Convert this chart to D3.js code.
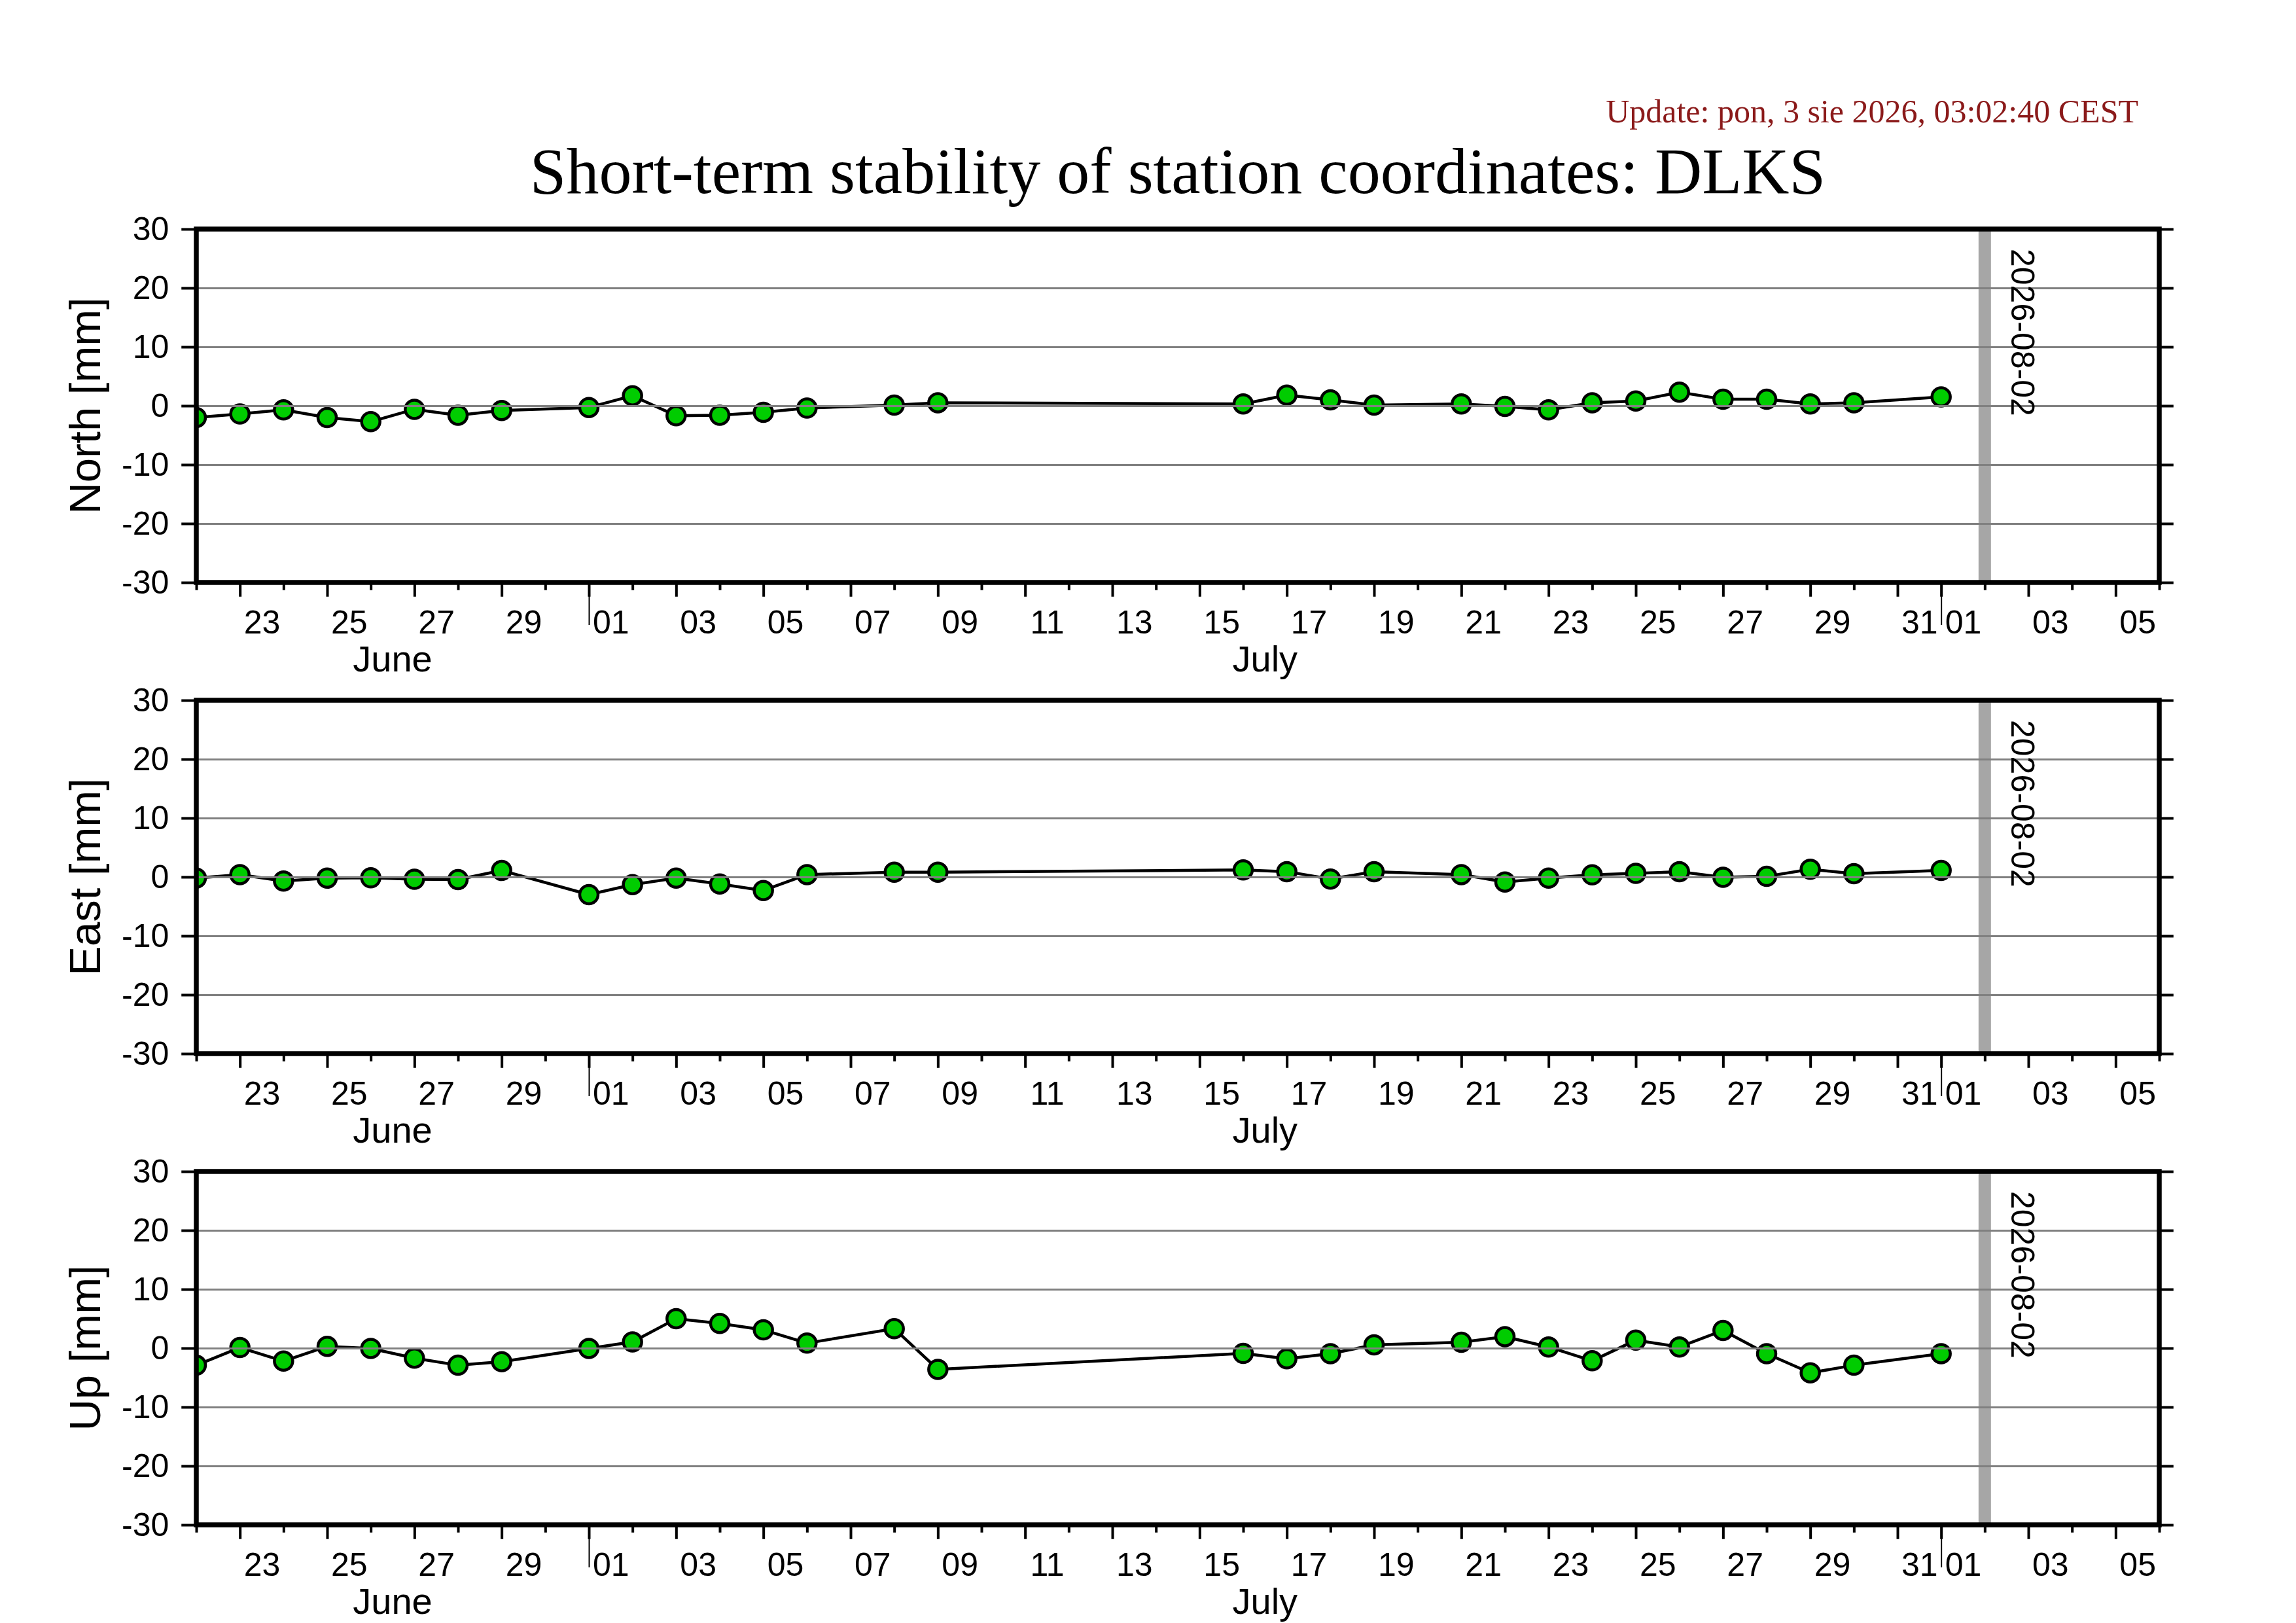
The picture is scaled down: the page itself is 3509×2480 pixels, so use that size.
<!DOCTYPE html>
<html><head><meta charset="utf-8">
<script src="https://cdn.jsdelivr.net/npm/d3@7"></script>
<style>body{margin:0;background:#fff}svg{display:block}</style>
</head><body><svg id="c"></svg>
<script>
const titleText = "Short-term stability of station coordinates: DLKS";
const updateText = "Update: pon, 3 sie 2026, 03:02:40 CEST";
const markerDate = "2026-08-02";
const domainDates = ["2026-06-22", "2026-08-06"];
const monthNames = [["2026-06-01", "June"], ["2026-07-01", "July"]];
const yTicks = [-30, -20, -10, 0, 10, 20, 30];
const gridTicks = [-20, -10, 0, 10, 20];
const panelLabels = ["North [mm]", "East [mm]", "Up [mm]"];

const dates = ["2026-06-22","2026-06-23","2026-06-24","2026-06-25","2026-06-26","2026-06-27","2026-06-28","2026-06-29",
  "2026-07-01","2026-07-02","2026-07-03","2026-07-04","2026-07-05","2026-07-06","2026-07-08","2026-07-09",
  "2026-07-16","2026-07-17","2026-07-18","2026-07-19","2026-07-21","2026-07-22","2026-07-23","2026-07-24",
  "2026-07-25","2026-07-26","2026-07-27","2026-07-28","2026-07-29","2026-07-30","2026-08-01"];
const north = [-2.0,-1.4,-0.7,-2.0,-2.7,-0.6,-1.6,-0.8, -0.3,1.7,-1.7,-1.6,-1.1,-0.4,0.1,0.5,
  0.3,1.8,1.0,0.1,0.3,-0.1,-0.7,0.5, 0.8,2.3,1.1,1.1,0.3,0.5,1.5];
const east = [-0.2,0.4,-0.7,-0.2,-0.15,-0.4,-0.45,1.1, -3.0,-1.3,-0.2,-1.2,-2.3,0.4,0.8,0.8,
  1.2,0.9,-0.35,0.9,0.4,-0.85,-0.2,0.35, 0.6,0.9,-0.05,0.1,1.3,0.55,1.1];
const up = [-2.9,0.1,-2.2,0.3,-0.05,-1.7,-2.9,-2.3, -0.05,1.05,5.0,4.2,3.1,0.85,3.3,-3.6,
  -0.9,-1.8,-0.95,0.55,1.0,1.95,0.2,-2.15, 1.35,0.2,3.0,-0.95,-4.2,-2.9,-0.95];
const series = [north, east, up];

const W = 3509, H = 2480;
const SANS = "'Liberation Sans', Arial, Helvetica, sans-serif";
const SERIF = "'Liberation Serif', 'Times New Roman', serif";
const svg = d3.select("#c").attr("width", W).attr("height", H);
svg.append("rect").attr("width", W).attr("height", H).attr("fill", "#fff");
const parse = d3.utcParse("%Y-%m-%d");
const L = 300, R = 3300, PH = 540, tops = [350, 1070, 1790];
const FR = 7.5;
const [d0, d1] = domainDates.map(parse);
const x = d3.scaleUtc().domain([d0, d1]).range([L, R]);

svg.append("text").attr("x", (L + R) / 2).attr("y", 295).attr("text-anchor", "middle")
  .attr("font-family", SERIF).attr("font-size", 100).text(titleText);
svg.append("text").attr("x", 3268).attr("y", 187).attr("text-anchor", "end")
  .attr("font-family", SERIF).attr("font-size", 50).attr("fill", "#8b1a1a").text(updateText);

const days = d3.utcDay.range(d0, d3.utcDay.offset(d1, 1));
const oddDays = days.filter(d => d.getUTCDate() % 2 === 1);
const evenDays = days.filter(d => d.getUTCDate() % 2 === 0);
const labelDays = oddDays.filter(d => d < d1).map(d => d3.utcHour.offset(d, 12));
const monthStarts = d3.utcMonth.range(d3.utcDay.offset(d0, 1), d1);

series.forEach((vals, i) => {
  const top = tops[i], bot = top + PH;
  const y = d3.scaleLinear().domain([-30, 30]).range([bot, top]);
  const g = svg.append("g");
  const cid = "clip" + i;
  svg.append("clipPath").attr("id", cid).append("rect")
    .attr("x", L).attr("y", top).attr("width", R - L).attr("height", PH);

  const pts = dates.map((d, k) => ({ t: parse(d), v: vals[k] }));
  const inner = g.append("g").attr("clip-path", `url(#${cid})`);
  inner.append("line").attr("x1", x(parse(markerDate))).attr("x2", x(parse(markerDate)))
    .attr("y1", top).attr("y2", bot).attr("stroke", "#a6a6a6").attr("stroke-width", 19);
  inner.append("path").datum(pts)
    .attr("d", d3.line().x(p => x(p.t)).y(p => y(p.v)))
    .attr("fill", "none").attr("stroke", "#000").attr("stroke-width", 4.5).attr("stroke-linejoin", "round");
  inner.selectAll("circle").data(pts).join("circle")
    .attr("cx", p => x(p.t)).attr("cy", p => y(p.v)).attr("r", 14)
    .attr("fill", "#00cc00").attr("stroke", "#000").attr("stroke-width", 4.5);
  const grid = g.append("g").attr("transform", `translate(${L},0)`)
    .call(d3.axisLeft(y).tickValues(gridTicks).tickSize(-(R - L)).tickFormat(""));
  grid.select(".domain").remove();
  grid.selectAll("line").attr("stroke", "#808080").attr("stroke-width", 3);

  g.append("text").attr("transform", `translate(3074,${top + 30}) rotate(90)`)
    .attr("font-family", SANS).attr("font-size", 50).text(markerDate);

  const ya = g.append("g").attr("transform", `translate(${L},0)`)
    .call(d3.axisLeft(y).tickValues(yTicks).tickSize(19 + FR / 2).tickPadding(19).tickFormat(d => String(d)));
  ya.select(".domain").remove();
  ya.selectAll("line").attr("stroke", "#000").attr("stroke-width", 4);
  ya.selectAll("text").attr("font-family", SANS).attr("font-size", 50).attr("fill", "#000");
  const yr = g.append("g").attr("transform", `translate(${R},0)`)
    .call(d3.axisRight(y).tickValues(yTicks).tickSize(18 + FR / 2).tickFormat(""));
  yr.select(".domain").remove();
  yr.selectAll("line").attr("stroke", "#000").attr("stroke-width", 4);

  const xl = g.append("g").attr("transform", `translate(0,${bot})`)
    .call(d3.axisBottom(x).tickValues(oddDays).tickSize(18 + FR / 2).tickFormat(""));
  const xs = g.append("g").attr("transform", `translate(0,${bot})`)
    .call(d3.axisBottom(x).tickValues(evenDays).tickSize(8 + FR / 2).tickFormat(""));
  const xm = g.append("g").attr("transform", `translate(0,${bot})`)
    .call(d3.axisBottom(x).tickValues(monthStarts).tickSize(65).tickFormat(""));
  [xl, xs, xm].forEach(a => { a.select(".domain").remove(); });
  xl.selectAll("line").attr("stroke", "#000").attr("stroke-width", 4);
  xs.selectAll("line").attr("stroke", "#000").attr("stroke-width", 4);
  xm.selectAll("line").attr("stroke", "#000").attr("stroke-width", 2);
  const xt = g.append("g").attr("transform", `translate(0,${bot})`)
    .call(d3.axisBottom(x).tickValues(labelDays).tickSize(0).tickFormat(d3.utcFormat("%d")));
  xt.select(".domain").remove();
  xt.selectAll("text").attr("y", 78).attr("dy", null)
    .attr("font-family", SANS).attr("font-size", 50).attr("fill", "#000");

  g.selectAll("text.month").data(monthNames).join("text").attr("class", "month")
    .attr("x", m => {
      const ms = parse(m[0]);
      const a = ms < d0 ? d0 : ms;
      const e = d3.utcMonth.offset(ms, 1);
      const b = e > d1 ? d1 : e;
      return (x(a) + x(b)) / 2;
    })
    .attr("y", bot + 136).attr("text-anchor", "middle")
    .attr("font-family", SANS).attr("font-size", 56).text(m => m[1]);

  g.append("text").attr("transform", `translate(153,${top + PH / 2}) rotate(-90)`)
    .attr("text-anchor", "middle").attr("font-family", SANS).attr("font-size", 67).text(panelLabels[i]);

  g.append("rect").attr("x", L).attr("y", top).attr("width", R - L).attr("height", PH)
    .attr("fill", "none").attr("stroke", "#000").attr("stroke-width", FR);
});
</script>
</body></html>
